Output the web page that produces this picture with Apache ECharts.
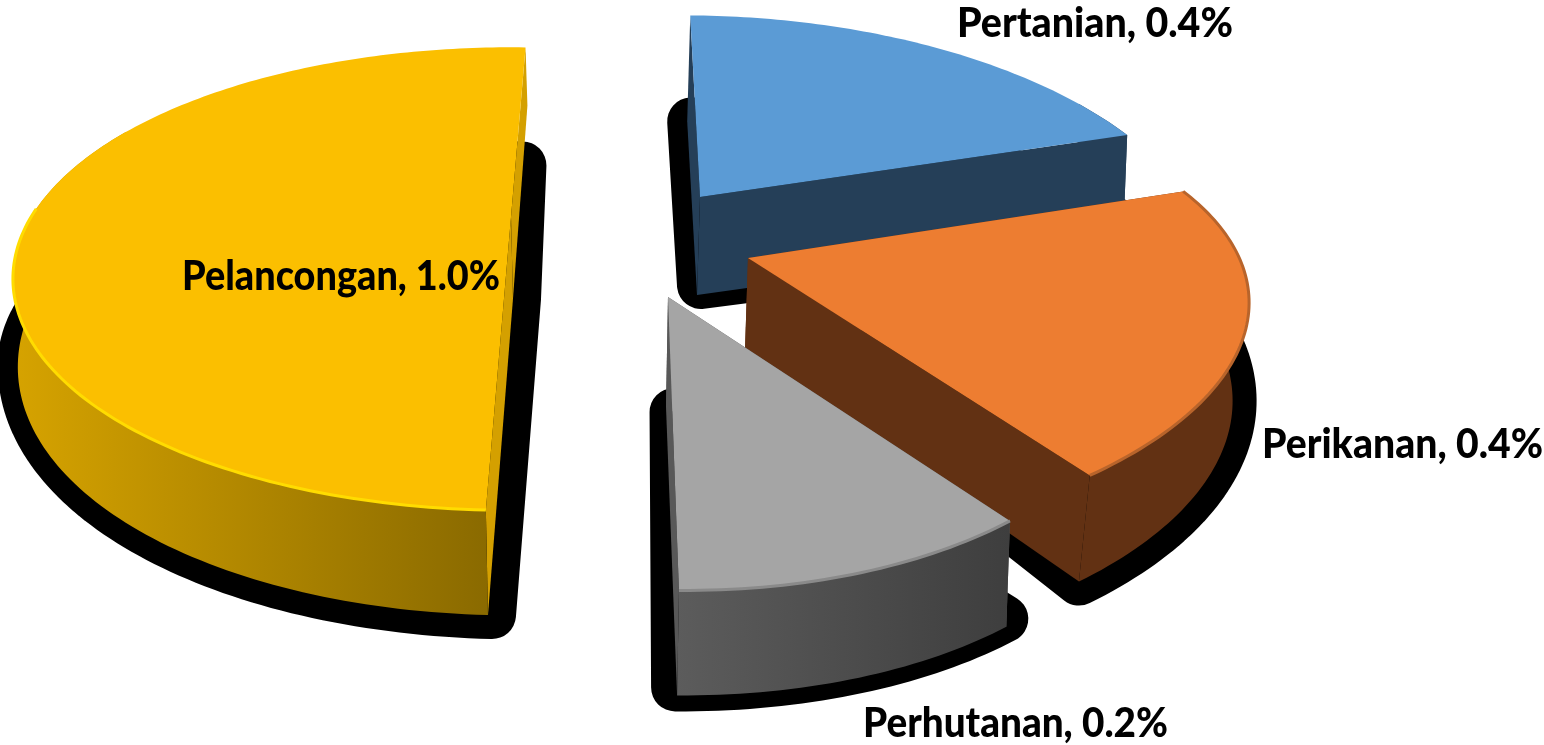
<!DOCTYPE html>
<html>
<head>
<meta charset="utf-8">
<title>Pie</title>
<script src="https://cdn.jsdelivr.net/npm/echarts@6/dist/echarts.min.js"></script>
<style>
html,body{margin:0;padding:0;background:#fff;}
#chart{width:1544px;height:745px;}
</style>
</head>
<body>
<div id="chart"></div>
<script>
// data
var categories = ['Pertanian', 'Perikanan', 'Perhutanan', 'Pelancongan'];
var values = [0.4, 0.4, 0.2, 1.0];

// colours per slice
var topColors = ['#5b9bd5', '#ed7d31', '#a5a5a5', '#fbbf00'];
var wallColors = ['#253f58', '#623113', '#585858', '#d4a000'];
var rimLeft = ['#253f58', '#623113', '#5c5c5c', '#d6a300'];
var rimRight = ['#253f58', '#623113', '#3e3e3e', '#8a6a00'];
var edgeColors = ['#5b9bd5', '#b8642b', '#8a8a8a', '#ffdc00'];
var edgeFrom = [0.05, 0.3, 0.05, 0.05];

// projection of each exploded slice (the 3d look)
var apexX = [700, 748, 668, 511];
var apexY = [197, 258, 297, 217];
var radiusX = [485, 484, 441, 480];
var radiusY = [230, 213, 215, 215];
var skewX = [-31, 4, -25, 0];
var skewY = [4, 14, 8, 0];
var depthA = [98, 92, 110, 81.5];
var depthB = [-8, 17, -5, 23.5];
var driftA = [-3, -3, -2, 2];
var driftB = [-1, -14, -3, -3];
var persp = 0.267;
var startAngle = 2.2;

// shadow tweaks
var shadowWidth = 48;
var shadowDx = [4, 0, -2, 4];
var shadowDy = [-10, 0, -8, 0];
var shadowFar = [10, 0, 0, 60];
var shadowFarX = [0, 0, 0, -9];
var shadowInset = [0, 0.1, 0.05, 0];

// label places
var labelX = [957, 1262, 863, 182];
var labelY = [24, 445, 724, 277];
var labelWidth = [276, 281, 305, 318];
var labelFont = '900 41px Lato';

var total = 0;
for (var i = 0; i < values.length; i++) { total += values[i]; }

function topPoint(i, deg) {
	var a = deg * Math.PI / 180;
	var X = Math.sin(a), Y = Math.cos(a);
	var s = 1 / (1 + persp * Y);
	return [
		apexX[i] + (radiusX[i] * X + skewX[i] * Y) * s,
		apexY[i] - (radiusY[i] * Y + skewY[i] * X) * s
	];
}
function bottomPoint(i, deg) {
	var a = deg * Math.PI / 180;
	var X = Math.sin(a), Y = Math.cos(a);
	var p = topPoint(i, deg);
	var h = Math.max(58, depthA[i] - depthB[i] * Y);
	return [p[0] + driftA[i] + driftB[i] * X, p[1] + h];
}
function shadowPoint(i, deg) {
	var p = bottomPoint(i, deg);
	var Y = Math.cos(deg * Math.PI / 180);
	var far = Math.max(Y + 0.3, 0) / 1.3;
	return [p[0] + shadowDx[i] + shadowFarX[i] * far, p[1] + shadowDy[i] + shadowFar[i] * far];
}
function apexBottom(i) {
	return [apexX[i] + driftA[i], apexY[i] + depthA[i]];
}
function sliceAngles(i) {
	var from = startAngle;
	for (var k = 0; k < i; k++) { from += values[k] / total * 360; }
	return [from, from + values[i] / total * 360];
}
function arcPoints(fn, i, from, to) {
	var pts = [];
	for (var d = from; d < to; d += 1) { pts.push(fn(i, d)); }
	pts.push(fn(i, to));
	return pts;
}

function renderShadow(params) {
	var i = params.dataIndex;
	var ang = sliceAngles(i);
	var arc = arcPoints(shadowPoint, i, ang[0], ang[1]);
	var mid = arc[Math.floor(arc.length / 2)];
	var ab = apexBottom(i);
	var ax = ab[0] + shadowDx[i] + (mid[0] - ab[0]) * shadowInset[i];
	var ay = ab[1] + shadowDy[i] + (mid[1] - ab[1]) * shadowInset[i];
	return {
		type: 'polygon',
		silent: true,
		shape: { points: [[ax, ay]].concat(arc) },
		style: { fill: '#000', stroke: '#000', lineWidth: shadowWidth, lineJoin: 'round' }
	};
}

function renderSlice(params) {
	var i = params.dataIndex;
	var ang = sliceAngles(i);
	var apexTop = [apexX[i], apexY[i]];
	var apexBot = apexBottom(i);
	var topArc = arcPoints(topPoint, i, ang[0], ang[1]);
	var botArc = arcPoints(bottomPoint, i, ang[0], ang[1]);
	var children = [];

	// the two flat walls
	children.push({
		type: 'polygon',
		shape: { points: [apexTop, topArc[0], botArc[0], apexBot] },
		style: { fill: wallColors[i] }
	});
	children.push({
		type: 'polygon',
		shape: { points: [apexTop, topArc[topArc.length - 1], botArc[botArc.length - 1], apexBot] },
		style: { fill: wallColors[i] }
	});
	// outer rim, only the part that faces us
	var rimTop = [], rimBot = [], front = [];
	for (var k = 0; k < topArc.length; k++) {
		var deg = ang[0] + k;
		var Y = Math.cos(deg * Math.PI / 180);
		if (Y < 0.45) {
			rimTop.push(topArc[k]);
			rimBot.push(botArc[k]);
		}
		if (Y < edgeFrom[i]) { front.push(topArc[k]); }
	}
	if (rimTop.length > 1) {
		children.push({
			type: 'polygon',
			shape: { points: rimTop.concat(rimBot.reverse()) },
			style: {
				fill: new echarts.graphic.LinearGradient(0, 0, 1, 0, [
					{ offset: 0, color: rimLeft[i] },
					{ offset: 1, color: rimRight[i] }
				])
			}
		});
	}
	// top face
	children.push({
		type: 'polygon',
		shape: { points: [apexTop].concat(topArc) },
		style: { fill: topColors[i] }
	});
	// bevel along the front edge
	if (front.length > 1) {
		children.push({
			type: 'polyline',
			shape: { points: front },
			style: { fill: null, stroke: edgeColors[i], lineWidth: 3 }
		});
	}
	return { type: 'group', children: children };
}

var measureCtx = document.createElement('canvas').getContext('2d');
function labelText(i) {
	return categories[i] + ', ' + values[i].toFixed(1) + '%';
}
function renderLabel(params) {
	var i = params.dataIndex;
	measureCtx.font = labelFont;
	var w = measureCtx.measureText(labelText(i)).width;
	return {
		type: 'text',
		silent: true,
		x: labelX[i],
		y: labelY[i],
		scaleX: labelWidth[i] / w,
		style: {
			text: labelText(i),
			font: labelFont,
			fill: '#000',
			align: 'left',
			verticalAlign: 'middle'
		}
	};
}

var chart = echarts.init(document.getElementById('chart'), null, { renderer: 'canvas' });
chart.setOption({
	animation: false,
	backgroundColor: '#fff',
	series: [
		{ type: 'custom', coordinateSystem: 'none', z: 1, data: values, renderItem: renderShadow },
		{ type: 'custom', coordinateSystem: 'none', z: 2, data: values, renderItem: renderSlice },
		{ type: 'custom', coordinateSystem: 'none', z: 3, data: values, renderItem: renderLabel }
	]
});
</script>
</body>
</html>
